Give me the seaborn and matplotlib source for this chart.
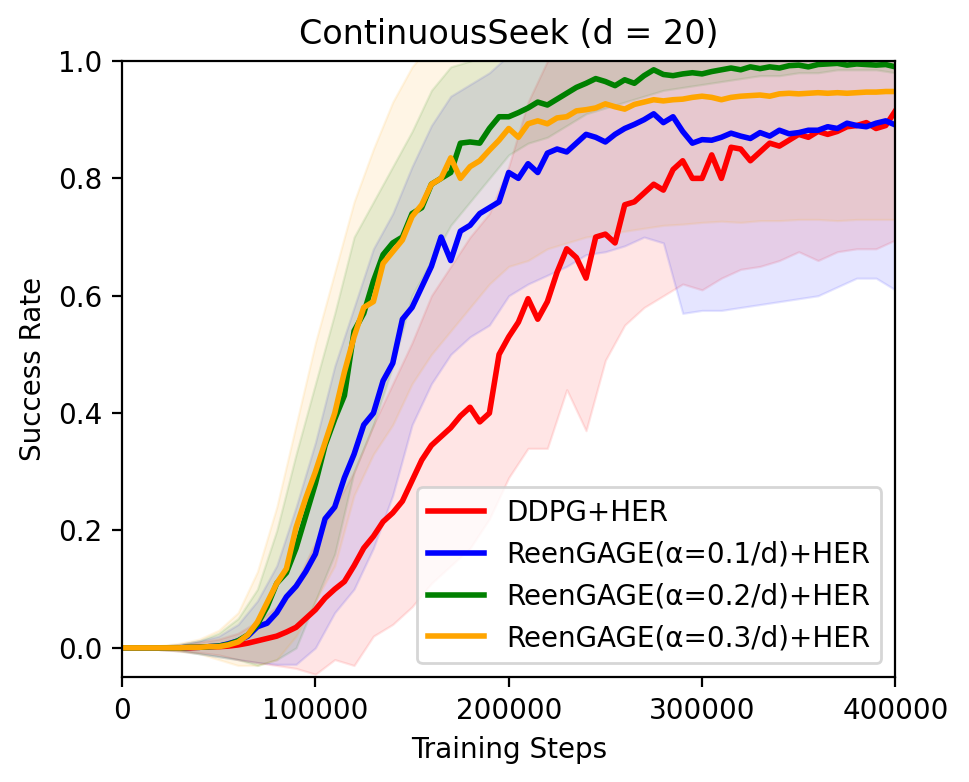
import numpy as np
import pandas as pd
import matplotlib
matplotlib.use("Agg")
import matplotlib.pyplot as plt
import seaborn as sns

# mean curves, every 5000 steps
steps = np.arange(0, 400001, 5000)

ddpg = [0.0, 0.0, 0.0, 0.0, 0.0, 0.0, 0.0, 0.0, 0.001, 0.002, 0.002,
        0.003, 0.005, 0.008, 0.012, 0.016, 0.02, 0.027, 0.035, 0.05, 0.065,
        0.085, 0.1, 0.113, 0.14, 0.17, 0.19, 0.215, 0.23, 0.25, 0.285,
        0.32, 0.345, 0.36, 0.375, 0.395, 0.41, 0.385, 0.40, 0.50, 0.53,
        0.555, 0.595, 0.56, 0.59, 0.64, 0.68, 0.665, 0.63, 0.70, 0.705,
        0.69, 0.755, 0.76, 0.775, 0.79, 0.78, 0.815, 0.83, 0.80, 0.80,
        0.84, 0.80, 0.853, 0.85, 0.83, 0.845, 0.86, 0.855, 0.865, 0.875,
        0.87, 0.88, 0.875, 0.88, 0.888, 0.89, 0.895, 0.885, 0.89, 0.915]

reen_01 = [0.0, 0.0, 0.0, 0.0, 0.0, 0.0, 0.0, 0.001, 0.001, 0.002, 0.003,
           0.007, 0.012, 0.02, 0.036, 0.042, 0.06, 0.087, 0.105, 0.13, 0.16,
           0.22, 0.24, 0.29, 0.33, 0.38, 0.40, 0.455, 0.485, 0.56, 0.58,
           0.615, 0.65, 0.70, 0.66, 0.71, 0.72, 0.74, 0.75, 0.76, 0.81,
           0.80, 0.825, 0.81, 0.843, 0.85, 0.845, 0.86, 0.875, 0.87, 0.862,
           0.875, 0.885, 0.892, 0.90, 0.91, 0.895, 0.905, 0.88, 0.86, 0.866,
           0.865, 0.87, 0.877, 0.872, 0.868, 0.878, 0.872, 0.882, 0.876, 0.878,
           0.882, 0.882, 0.888, 0.885, 0.894, 0.89, 0.888, 0.894, 0.898, 0.891]

reen_02 = [0.0, 0.0, 0.0, 0.0, 0.0, 0.0, 0.0, 0.001, 0.001, 0.002, 0.003,
           0.006, 0.012, 0.022, 0.04, 0.07, 0.11, 0.128, 0.17, 0.225, 0.28,
           0.345, 0.39, 0.43, 0.54, 0.57, 0.625, 0.67, 0.69, 0.70, 0.74,
           0.75, 0.79, 0.80, 0.81, 0.86, 0.862, 0.86, 0.885, 0.905, 0.905,
           0.912, 0.92, 0.93, 0.925, 0.935, 0.945, 0.955, 0.962, 0.97, 0.965,
           0.958, 0.968, 0.962, 0.975, 0.985, 0.977, 0.975, 0.978, 0.98, 0.978,
           0.982, 0.985, 0.988, 0.985, 0.99, 0.987, 0.99, 0.988, 0.992, 0.993,
           0.99, 0.994, 0.995, 0.996, 0.993, 0.995, 0.994, 0.993, 0.994, 0.99]

reen_03 = [0.0, 0.0, 0.0, 0.0, 0.0, 0.0, 0.0, 0.001, 0.001, 0.002, 0.002,
           0.005, 0.01, 0.022, 0.044, 0.077, 0.11, 0.135, 0.205, 0.255, 0.30,
           0.35, 0.40, 0.47, 0.53, 0.58, 0.59, 0.655, 0.675, 0.695, 0.735,
           0.755, 0.79, 0.80, 0.835, 0.80, 0.82, 0.83, 0.848, 0.865, 0.885,
           0.87, 0.893, 0.898, 0.893, 0.903, 0.905, 0.915, 0.917, 0.92, 0.927,
           0.922, 0.918, 0.926, 0.93, 0.934, 0.932, 0.934, 0.935, 0.938, 0.94,
           0.938, 0.934, 0.938, 0.94, 0.941, 0.942, 0.94, 0.944, 0.945, 0.944,
           0.945, 0.946, 0.945, 0.946, 0.945, 0.946, 0.947, 0.947, 0.948, 0.948]

# shaded bands, every 10000 steps
band_steps = np.arange(0, 400001, 10000)

ddpg_low = [0.0, 0.0, -0.003, -0.005, -0.008, -0.012, -0.02, -0.025, -0.03, -0.035, -0.045,
            -0.02, -0.03, 0.02, 0.04, 0.07, 0.11, 0.14, 0.17, 0.22, 0.29,
            0.34, 0.34, 0.44, 0.37, 0.49, 0.55, 0.58, 0.60, 0.62, 0.61,
            0.63, 0.645, 0.65, 0.66, 0.675, 0.66, 0.675, 0.68, 0.68, 0.695]
ddpg_high = [0.0, 0.0, 0.003, 0.005, 0.01, 0.015, 0.025, 0.045, 0.07, 0.11, 0.18,
             0.24, 0.30, 0.38, 0.45, 0.52, 0.60, 0.65, 0.70, 0.74, 0.82,
             0.93, 1.0, 1.02, 1.03, 1.03, 1.03, 1.03, 1.04, 1.04, 1.04,
             1.04, 1.05, 1.05, 1.05, 1.05, 1.05, 1.05, 1.05, 1.05, 1.05]

reen_01_low = [0.0, 0.0, -0.003, -0.005, -0.01, -0.015, -0.02, -0.025, -0.028, -0.028, 0.0,
               0.06, 0.10, 0.17, 0.26, 0.38, 0.45, 0.50, 0.53, 0.55, 0.60,
               0.62, 0.635, 0.65, 0.67, 0.675, 0.685, 0.70, 0.69, 0.57, 0.575,
               0.575, 0.58, 0.585, 0.59, 0.595, 0.60, 0.615, 0.63, 0.63, 0.61]
reen_01_high = [0.0, 0.0, 0.003, 0.006, 0.012, 0.02, 0.04, 0.08, 0.14, 0.24, 0.35,
                0.48, 0.58, 0.68, 0.74, 0.82, 0.89, 0.94, 0.96, 0.98, 1.01,
                1.03, 1.03, 1.04, 1.04, 1.05, 1.05, 1.05, 1.05, 1.1, 1.1,
                1.1, 1.1, 1.1, 1.1, 1.1, 1.1, 1.1, 1.1, 1.1, 1.1]

reen_02_low = [0.0, 0.0, -0.003, -0.005, -0.01, -0.015, -0.02, -0.03, -0.02, 0.0, 0.08,
               0.16, 0.30, 0.38, 0.48, 0.60, 0.66, 0.72, 0.76, 0.80, 0.84,
               0.86, 0.87, 0.89, 0.91, 0.92, 0.93, 0.94, 0.95, 0.955, 0.96,
               0.965, 0.97, 0.975, 0.975, 0.98, 0.98, 0.985, 0.985, 0.985, 0.98]
reen_02_high = [0.0, 0.0, 0.003, 0.006, 0.012, 0.025, 0.05, 0.10, 0.20, 0.33, 0.45,
                0.57, 0.70, 0.76, 0.82, 0.88, 0.95, 0.99, 1.0, 1.01, 1.01,
                1.01, 1.01, 1.01, 1.01, 1.01, 1.01, 1.01, 1.01, 1.01, 1.01,
                1.01, 1.01, 1.01, 1.01, 1.01, 1.01, 1.01, 1.01, 1.01, 1.01]

reen_03_low = [0.0, 0.0, -0.003, -0.006, -0.01, -0.02, -0.03, -0.03, -0.02, 0.02, 0.08,
               0.14, 0.26, 0.33, 0.38, 0.45, 0.50, 0.54, 0.58, 0.62, 0.65,
               0.66, 0.68, 0.69, 0.70, 0.705, 0.71, 0.715, 0.72, 0.722, 0.725,
               0.727, 0.725, 0.728, 0.728, 0.73, 0.73, 0.728, 0.73, 0.73, 0.73]
reen_03_high = [0.0, 0.0, 0.004, 0.008, 0.015, 0.03, 0.06, 0.13, 0.24, 0.38, 0.52,
                0.64, 0.76, 0.85, 0.93, 0.99, 1.03, 1.05, 1.08, 1.1, 1.1,
                1.1, 1.12, 1.12, 1.12, 1.13, 1.14, 1.14, 1.15, 1.15, 1.15,
                1.15, 1.15, 1.15, 1.15, 1.15, 1.15, 1.15, 1.15, 1.15, 1.15]

labels = ["DDPG+HER", "ReenGAGE(α=0.1/d)+HER",
          "ReenGAGE(α=0.2/d)+HER", "ReenGAGE(α=0.3/d)+HER"]
colors = ["red", "blue", "green", "orange"]
means = [ddpg, reen_01, reen_02, reen_03]
lows = [ddpg_low, reen_01_low, reen_02_low, reen_03_low]
highs = [ddpg_high, reen_01_high, reen_02_high, reen_03_high]

fig, ax = plt.subplots(figsize=(4.845, 3.91), dpi=200)
fig.subplots_adjust(left=0.126, right=0.924, top=0.922, bottom=0.134)

# bands first
for lo, hi, c in zip(lows, highs, colors):
    ax.fill_between(band_steps, lo, hi, color=c, alpha=0.1, linewidth=0.8)

# mean lines
for m, lab, c in zip(means, labels, colors):
    df = pd.DataFrame({"step": steps, "success": m})
    sns.lineplot(data=df, x="step", y="success", color=c, label=lab,
                 linewidth=2.0, ax=ax)

ax.set_xlim(0, 400000)
ax.set_ylim(-0.05, 1.0)
ax.set_xticks([0, 100000, 200000, 300000, 400000])
ax.set_xticklabels(["0", "100000", "200000", "300000", "400000"])
ax.set_yticks([0.0, 0.2, 0.4, 0.6, 0.8, 1.0])
ax.set_title("ContinuousSeek (d = 20)", fontsize=12)
ax.set_xlabel("Training Steps")
ax.set_ylabel("Success Rate")
ax.legend(loc="lower right")

fig.savefig("out.png", dpi=200)
